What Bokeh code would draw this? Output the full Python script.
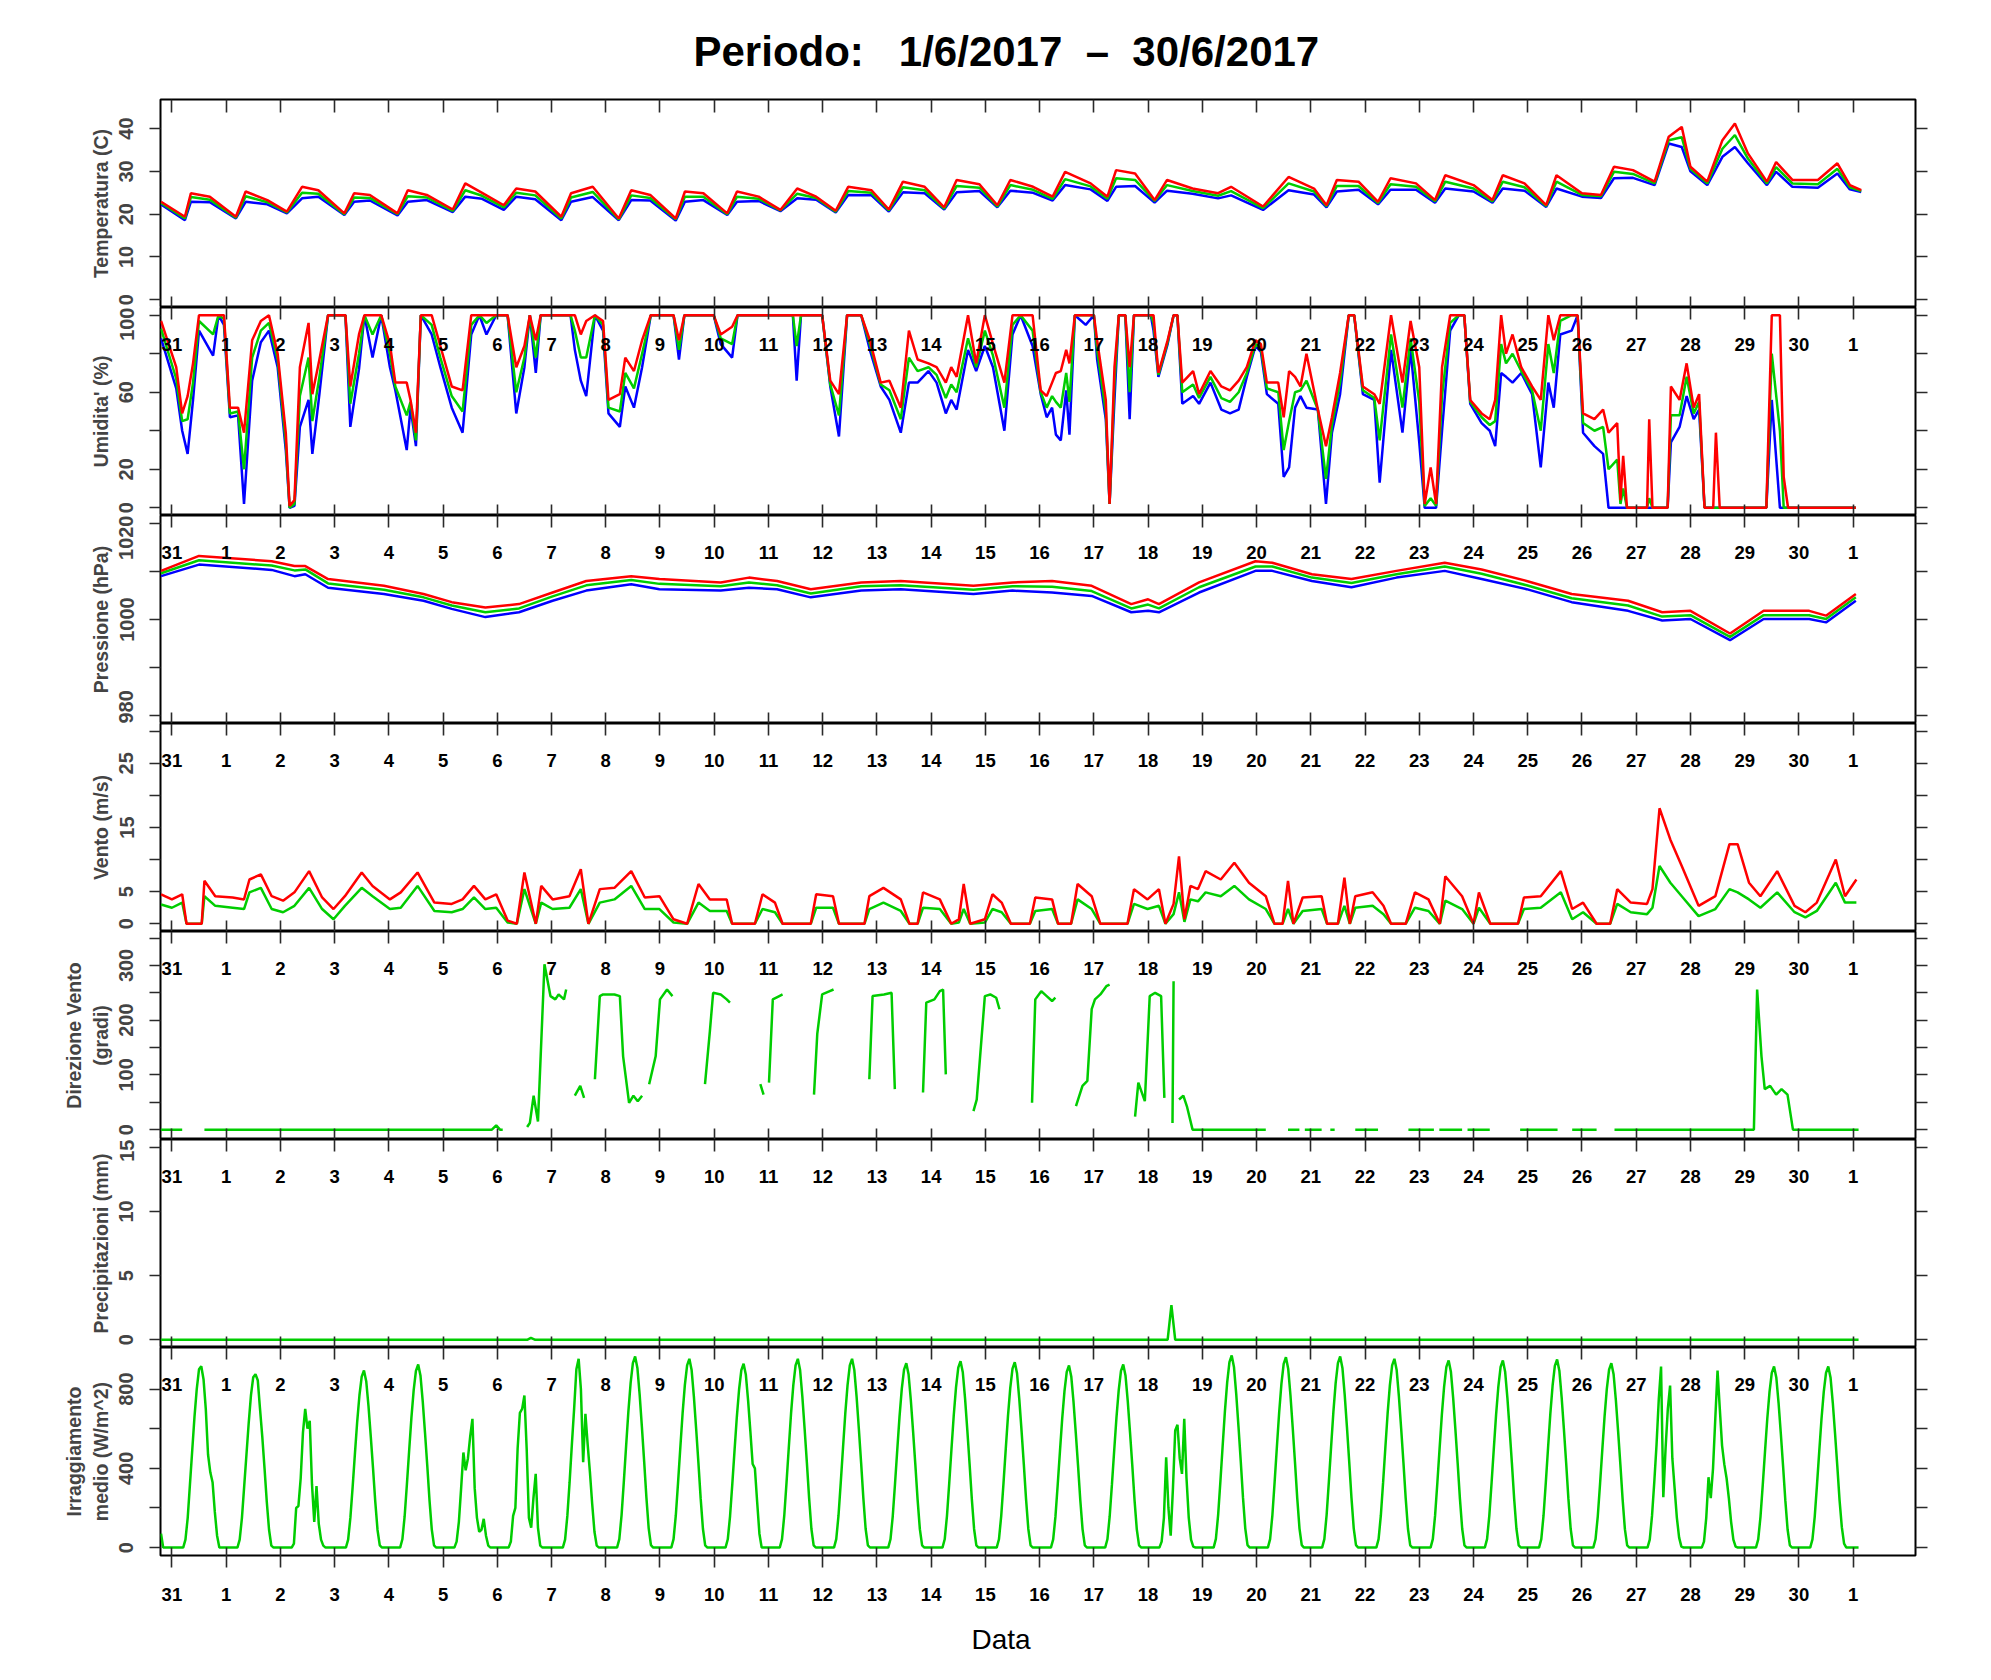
import math
from bokeh.plotting import figure
from bokeh.layouts import column
from bokeh.models import LinearAxis, FixedTicker, Range1d, Title
from bokeh.embed import file_html
from bokeh.resources import INLINE

NAN = float("nan")

# ---------------- x axis (day ticks) ----------------
DAY_TICKS = list(range(32))
DAY_LABELS = ["31", "1", "2", "3", "4", "5", "6", "7", "8", "9", "10", "11", "12", "13", "14", "15",
              "16", "17", "18", "19", "20", "21", "22", "23", "24", "25", "26", "27", "28", "29", "30", "1"]

# ---------------- Temperatura (C) ----------------
temp_t = [-0.2, 0.24, 0.35, 0.7,
          1.18, 1.36, 1.76, 2.12, 2.4, 2.7, 3.18, 3.36, 3.65, 4.16, 4.35, 4.7,
          5.18, 5.41, 5.72, 6.12, 6.35, 6.7, 7.18, 7.36, 7.76, 8.24, 8.47, 8.82,
          9.29, 9.46, 9.8, 10.24, 10.42, 10.82, 11.22, 11.53, 11.88, 12.24, 12.47, 12.9,
          13.22, 13.48, 13.88, 14.24, 14.47, 14.89, 15.22, 15.46, 15.88, 16.24, 16.47, 16.94,
          17.25, 17.41, 17.76, 18.12, 18.35, 18.82,
          19.29, 19.53, 20.12, 20.59,
          21.06, 21.29, 21.48, 21.88, 22.24, 22.47, 22.94, 23.29, 23.48,
          24.0, 24.35, 24.54, 24.94, 25.34, 25.53,
          26.0, 26.35, 26.59, 26.94, 27.34, 27.6, 27.84,
          28.0, 28.31, 28.59, 28.82, 29.06, 29.41, 29.58, 29.88,
          30.35, 30.71, 30.94, 31.15]
temp_max = [22.9, 19.4, 24.9, 24.1,
            19.4, 25.3, 23.3, 20.6, 26.4, 25.6, 20.2, 24.9, 24.5, 20.2, 25.6, 24.5,
            21.1, 27.2, 25.0, 22.1, 26.0, 25.3, 19.4, 24.9, 26.4, 19.0, 25.6, 24.5,
            19.0, 25.3, 24.9, 20.2, 25.3, 24.1, 21.0, 26.0, 24.1, 20.8, 26.4, 25.6,
            21.1, 27.6, 26.4, 21.6, 28.0, 27.0, 22.1, 28.0, 26.4, 24.1, 29.9, 27.2,
            24.1, 30.3, 29.5, 23.3, 28.0, 26.0,
            24.9, 26.4, 21.8, 28.7,
            26.0, 22.1, 28.0, 27.6, 22.9, 28.4, 27.2, 23.3, 29.1,
            26.8, 23.3, 29.1, 27.2, 22.1, 29.1,
            24.9, 24.5, 31.1, 30.3, 27.6, 38.1, 40.4,
            31.1, 27.6, 37.3, 41.2, 34.2, 27.6, 32.2, 28.0,
            28.0, 31.9, 26.8, 25.6]
temp_mean = [22.6, 19.0, 24.0, 23.4,
             19.2, 24.2, 22.8, 20.4, 25.0, 24.8, 20.0, 23.9, 23.8, 20.0, 24.2, 23.9,
             20.8, 25.6, 24.3, 21.6, 25.0, 24.4, 19.0, 23.9, 25.2, 18.8, 24.4, 23.8,
             18.8, 24.1, 24.1, 20.0, 24.1, 23.6, 20.9, 24.8, 23.8, 20.6, 25.4, 25.0,
             20.9, 26.3, 25.6, 21.3, 26.6, 26.2, 21.8, 26.8, 25.7, 23.6, 28.2, 26.5,
             23.6, 28.4, 28.0, 23.1, 26.8, 25.4,
             24.3, 25.4, 21.4, 27.2,
             25.3, 21.9, 26.6, 26.6, 22.6, 27.0, 26.4, 23.0, 27.6,
             26.0, 23.0, 27.6, 26.3, 21.9, 27.6,
             24.5, 24.2, 29.9, 29.4, 27.2, 37.3, 38.0,
             30.6, 27.2, 35.3, 38.5, 33.0, 27.2, 31.0, 27.2,
             27.0, 30.6, 26.3, 25.4]
temp_min = [22.3, 18.6, 22.9, 22.8,
            19.0, 22.9, 22.3, 20.2, 23.7, 24.1, 19.8, 22.9, 23.2, 19.7, 22.9, 23.3,
            20.5, 24.1, 23.6, 21.0, 24.1, 23.5, 18.6, 22.9, 24.0, 18.6, 23.3, 23.2,
            18.5, 22.9, 23.3, 19.8, 22.9, 23.1, 20.7, 23.7, 23.4, 20.4, 24.5, 24.4,
            20.6, 25.1, 24.9, 21.1, 25.1, 25.4, 21.6, 25.5, 25.0, 23.2, 26.8, 25.8,
            23.1, 26.4, 26.6, 22.7, 25.5, 24.8,
            23.7, 24.4, 21.0, 25.6,
            24.6, 21.6, 25.3, 25.7, 22.3, 25.7, 25.7, 22.7, 26.0,
            25.3, 22.7, 26.0, 25.5, 21.7, 26.0,
            24.1, 23.8, 28.4, 28.5, 26.8, 36.5, 35.7,
            30.0, 26.8, 33.4, 35.7, 31.9, 26.8, 29.9, 26.4,
            26.2, 29.5, 25.8, 25.2]

# ---------------- Umidita' (%) ----------------
hum_t = [-0.2, 0.08, 0.19, 0.29, 0.39, 0.5, 0.76, 0.86, 0.96, 1.07,
         1.22, 1.33, 1.48, 1.64, 1.79, 1.95, 2.1, 2.17, 2.26, 2.36,
         2.52, 2.59, 2.72, 2.88, 3.2, 3.29, 3.45, 3.55, 3.7, 3.86,
         4.02, 4.12, 4.33, 4.4, 4.5, 4.59, 4.79, 4.95, 5.16, 5.36,
         5.52, 5.67, 5.8, 5.98, 6.19, 6.35, 6.5, 6.6, 6.71, 6.8,
         7.35, 7.43, 7.54, 7.64, 7.8, 7.95, 8.05, 8.26, 8.36, 8.52,
         8.67, 8.83, 9.25, 9.35, 9.45, 9.99, 10.12, 10.33, 10.43, 11.45,
         11.52, 11.6, 11.99, 12.14, 12.3, 12.45, 12.71, 12.87, 13.07, 13.23,
         13.44, 13.59, 13.75, 13.95, 14.1, 14.27, 14.37, 14.47, 14.68, 14.83,
         14.99, 15.14, 15.35, 15.5, 15.65, 15.87, 16.02, 16.13, 16.23, 16.3,
         16.39, 16.49, 16.55, 16.65, 16.85, 17.0, 17.06, 17.22, 17.29, 17.38,
         17.46, 17.58, 17.66, 17.74, 18.05, 18.1, 18.19, 18.36, 18.47, 18.54,
         18.63, 18.83, 18.94, 19.15, 19.35, 19.51, 19.67, 19.82, 19.98, 20.08,
         20.19, 20.4, 20.5, 20.6, 20.71, 20.81, 20.92, 21.13, 21.28, 21.39,
         21.54, 21.7, 21.8, 21.96, 22.17, 22.27, 22.48, 22.69, 22.84, 23.0,
         23.1, 23.21, 23.31, 23.42, 23.57, 23.73, 23.83, 23.94, 24.15, 24.3,
         24.4, 24.51, 24.6, 24.72, 24.88, 25.08, 25.24, 25.38, 25.48, 25.6,
         25.81, 25.92, 26.02, 26.23, 26.39, 26.49, 26.65, 26.71, 26.76, 26.83,
         27.2, 27.24, 27.3, 27.58, 27.64, 27.8, 27.93, 28.06, 28.16, 28.26,
         28.42, 28.47, 28.54, 29.4, 29.5, 29.65, 29.72, 29.8, 31.05]
hum_max = [97, 73, 49, 58, 75, 100, 100, 100, 100, 52,
           52, 39, 87, 97, 100, 80, 39, 1, 4, 73,
           96, 59, 77, 100, 100, 63, 90, 100, 100, 100,
           85, 65, 65, 56, 39, 100, 100, 84, 63, 61,
           100, 100, 100, 100, 100, 73, 84, 100, 87, 100,
           100, 100, 90, 97, 100, 97, 56, 59, 78, 71,
           87, 100, 100, 87, 100, 100, 90, 94, 100, 100,
           100, 100, 100, 66, 59, 100, 100, 87, 65, 66,
           52, 92, 77, 75, 73, 65, 73, 68, 100, 75,
           100, 85, 65, 100, 100, 100, 61, 58, 65, 70,
           71, 82, 75, 100, 100, 100, 87, 56, 2, 73,
           100, 100, 73, 100, 100, 100, 70, 87, 100, 100,
           65, 71, 59, 71, 63, 61, 66, 73, 87, 85,
           65, 65, 47, 71, 68, 63, 80, 51, 32, 47,
           70, 100, 100, 63, 59, 54, 100, 65, 97, 73,
           2, 21, 2, 73, 100, 100, 100, 56, 49, 46,
           56, 100, 80, 90, 73, 63, 56, 100, 87, 100,
           100, 100, 49, 46, 51, 39, 44, 4, 27, 0,
           0, 46, 0, 0, 63, 56, 75, 52, 59, 0,
           0, 39, 0, 0, 100, 100, 16, 0, 0]
hum_mean = [93, 67, 45, 46, 65, 97, 90, 100, 98, 49,
            50, 20, 78, 92, 96, 77, 34, 0, 2, 58,
            78, 45, 68, 100, 100, 54, 80, 100, 90, 100,
            80, 63, 48, 55, 35, 100, 95, 78, 58, 50,
            95, 100, 96, 100, 100, 60, 78, 100, 78, 100,
            100, 92, 78, 78, 100, 95, 52, 50, 70, 62,
            80, 100, 100, 82, 100, 100, 88, 85, 100, 100,
            84, 100, 100, 64, 48, 100, 100, 85, 64, 61,
            46, 78, 71, 73, 69, 57, 64, 60, 88, 73,
            92, 79, 52, 95, 100, 92, 60, 52, 58, 55,
            52, 70, 55, 100, 100, 100, 82, 50, 2, 65,
            100, 100, 60, 100, 100, 96, 69, 86, 100, 100,
            60, 64, 57, 68, 57, 55, 60, 70, 85, 83,
            62, 60, 30, 45, 60, 61, 66, 51, 15, 43,
            65, 100, 100, 61, 57, 35, 90, 52, 88, 55,
            1, 5, 1, 58, 96, 100, 100, 55, 47, 43,
            45, 85, 75, 80, 71, 61, 40, 85, 70, 97,
            100, 100, 44, 40, 42, 20, 25, 2, 10, 0,
            0, 5, 0, 0, 48, 48, 68, 49, 55, 0,
            0, 0, 0, 0, 80, 40, 0, 0, 0]
hum_min = [88, 62, 40, 28, 56, 92, 79, 100, 95, 47,
           48, 2, 66, 86, 92, 73, 30, 0, 1, 42,
           56, 28, 59, 100, 100, 42, 72, 100, 78, 100,
           73, 61, 30, 52, 32, 100, 90, 73, 52, 39,
           90, 100, 90, 100, 100, 49, 73, 100, 70, 100,
           100, 82, 66, 58, 100, 92, 49, 42, 63, 52,
           73, 100, 100, 77, 100, 100, 85, 78, 100, 100,
           66, 100, 100, 63, 37, 100, 100, 82, 63, 56,
           39, 65, 65, 71, 65, 49, 56, 51, 82, 71,
           84, 73, 40, 90, 100, 84, 59, 47, 52, 38,
           35, 61, 38, 100, 95, 100, 77, 46, 2, 56,
           100, 100, 46, 100, 100, 92, 68, 85, 100, 100,
           54, 58, 54, 65, 51, 49, 51, 68, 84, 81,
           59, 54, 16, 21, 52, 58, 52, 51, 2, 39,
           59, 100, 100, 59, 56, 13, 82, 39, 82, 34,
           0, 0, 0, 40, 92, 100, 100, 54, 44, 40,
           32, 70, 68, 65, 70, 59, 21, 65, 52, 90,
           92, 100, 39, 32, 28, 0, 0, 0, 0, 0,
           0, 0, 0, 0, 34, 42, 58, 46, 51, 0,
           0, 0, 0, 0, 56, 0, 0, 0, 0]

# ---------------- Pressione (hPa) ----------------
pres_t = [-0.2, 0.5, 1.84, 2.26, 2.46, 2.88, 3.91, 4.64, 5.16, 5.78,
          6.4, 7.02, 7.64, 8.47, 8.99, 10.12, 10.64, 11.16, 11.78, 12.71,
          13.44, 14.78, 15.5, 16.23, 16.96, 17.69, 18.0, 18.2, 18.94, 19.98,
          20.29, 21.02, 21.75, 22.58, 23.47, 24.15, 24.98, 25.81, 26.85, 27.48,
          28.0, 28.73, 29.35, 30.19, 30.5, 31.05]
pres_max = [1010.1, 1013.2, 1012.1, 1011.1, 1011.1, 1008.4, 1007.0, 1005.3, 1003.6, 1002.5,
            1003.2, 1005.6, 1008.0, 1009.0, 1008.4, 1007.7, 1008.7, 1008.0, 1006.3, 1007.7,
            1008.0, 1007.0, 1007.7, 1008.0, 1007.0, 1003.2, 1004.2, 1003.2, 1007.7, 1012.1,
            1011.8, 1009.4, 1008.4, 1010.1, 1011.8, 1010.4, 1008.0, 1005.3, 1003.9, 1001.5,
            1001.8, 997.1, 1001.8, 1001.8, 1000.8, 1005.3]
pres_mean = [1009.6, 1012.3, 1011.2, 1010.2, 1010.4, 1007.5, 1006.2, 1004.6, 1002.9, 1001.5,
             1002.3, 1004.8, 1007.1, 1008.2, 1007.4, 1006.9, 1007.7, 1007.1, 1005.4, 1006.9,
             1007.1, 1006.2, 1006.9, 1006.8, 1005.9, 1002.3, 1003.1, 1002.3, 1006.7, 1011.0,
             1011.0, 1008.7, 1007.6, 1009.4, 1011.0, 1009.5, 1007.1, 1004.4, 1002.9, 1000.6,
             1000.9, 996.4, 1000.9, 1000.9, 1000.1, 1004.6]
pres_min = [1009.0, 1011.4, 1010.3, 1009.0, 1009.4, 1006.6, 1005.3, 1003.9, 1002.2, 1000.5,
            1001.5, 1003.9, 1006.0, 1007.3, 1006.3, 1006.0, 1006.6, 1006.3, 1004.6, 1006.0,
            1006.3, 1005.3, 1006.0, 1005.6, 1004.9, 1001.5, 1001.8, 1001.5, 1005.6, 1010.1,
            1010.1, 1008.0, 1006.7, 1008.7, 1010.1, 1008.4, 1006.3, 1003.6, 1001.8, 999.8,
            1000.1, 995.7, 1000.1, 1000.1, 999.4, 1003.9]

# ---------------- Vento (m/s) ----------------
wind_t = [-0.2, 0.0, 0.19, 0.27, 0.55, 0.6, 0.8, 1.12, 1.33, 1.43,
          1.64, 1.84, 2.05, 2.26, 2.53, 2.77, 2.98, 3.19, 3.5, 3.7,
          4.02, 4.22, 4.53, 4.84, 5.16, 5.36, 5.57, 5.78, 5.98, 6.19,
          6.36, 6.5, 6.71, 6.81, 7.02, 7.33, 7.54, 7.68, 7.89, 8.16,
          8.47, 8.72, 8.99, 9.25, 9.5, 9.71, 9.92, 10.23, 10.33, 10.75,
          10.89, 11.12, 11.26, 11.78, 11.88, 12.19, 12.3, 12.77, 12.86, 13.12,
          13.44, 13.6, 13.75, 13.85, 14.16, 14.37, 14.51, 14.6, 14.72, 14.99,
          15.13, 15.3, 15.47, 15.82, 15.92, 16.23, 16.34, 16.58, 16.7, 16.96,
          17.12, 17.62, 17.74, 17.99, 18.2, 18.32, 18.47, 18.57, 18.67, 18.78,
          18.92, 19.06, 19.34, 19.59, 19.86, 20.17, 20.33, 20.48, 20.58, 20.68,
          20.85, 21.2, 21.3, 21.5, 21.62, 21.72, 21.82, 22.14, 22.34, 22.48,
          22.75, 22.92, 23.17, 23.38, 23.48, 23.79, 24.0, 24.1, 24.31, 24.82,
          24.93, 25.24, 25.61, 25.82, 26.02, 26.27, 26.52, 26.65, 26.9, 27.2,
          27.3, 27.43, 27.63, 27.84, 28.15, 28.46, 28.72, 28.87, 29.08, 29.29,
          29.6, 29.92, 30.12, 30.33, 30.68, 30.85, 31.06]
wind_max = [4.6, 3.8, 4.6, 0, 0, 6.7, 4.3, 4.1, 3.8, 6.9,
            7.7, 4.3, 3.6, 4.9, 8.2, 4.1, 2.3, 4.3, 8.0, 5.9,
            3.8, 4.9, 8.0, 3.3, 3.1, 3.8, 5.9, 3.8, 4.6, 0.5,
            0, 8.0, 0, 5.9, 3.8, 4.3, 8.5, 0, 5.4, 5.6,
            8.2, 4.1, 4.3, 0.7, 0, 6.2, 3.8, 3.8, 0, 0,
            4.6, 3.3, 0, 0, 4.6, 4.3, 0, 0, 4.3, 5.6,
            3.8, 0, 0, 4.9, 3.8, 0, 0.7, 6.2, 0, 0.7,
            4.6, 3.3, 0, 0, 4.1, 3.8, 0, 0, 6.2, 4.3,
            0, 0, 5.4, 3.8, 5.4, 0, 3.1, 10.5, 0.7, 5.9,
            5.4, 8.2, 6.9, 9.5, 6.4, 4.3, 0, 0, 6.7, 0,
            4.1, 4.3, 0, 0, 7.2, 0, 4.3, 4.9, 2.8, 0,
            0, 4.9, 3.8, 0, 7.4, 4.3, 0, 4.9, 0, 0,
            4.1, 4.3, 8.2, 2.3, 3.3, 0, 0, 5.4, 3.3, 3.1,
            5.4, 18.0, 13.1, 9.0, 2.8, 4.3, 12.4, 12.4, 6.4, 4.3,
            8.2, 2.8, 1.8, 3.3, 10.0, 4.3, 6.9]
wind_mean = [3.0, 2.5, 3.3, 0, 0, 4.3, 2.8, 2.5, 2.3, 4.9,
             5.6, 2.3, 1.8, 2.8, 5.6, 2.3, 0.7, 2.8, 5.6, 4.3,
             2.3, 2.5, 5.9, 2.0, 1.8, 2.3, 4.1, 2.3, 2.5, 0.2,
             0, 5.4, 0, 3.3, 2.3, 2.5, 5.4, 0, 3.3, 3.8,
             5.9, 2.3, 2.3, 0.2, 0, 3.3, 2.0, 2.0, 0, 0,
             2.3, 1.8, 0, 0, 2.5, 2.5, 0, 0, 2.3, 3.3,
             2.0, 0, 0, 2.5, 2.3, 0, 0.2, 2.3, 0, 0.2,
             2.3, 1.8, 0, 0, 2.0, 2.3, 0, 0, 3.8, 2.3,
             0, 0, 3.1, 2.3, 2.8, 0, 1.5, 4.9, 0.3, 3.8,
             3.5, 4.9, 4.3, 5.9, 3.8, 2.3, 0, 0, 2.3, 0,
             2.0, 2.3, 0, 0, 2.8, 0, 2.5, 2.8, 1.5, 0,
             0, 2.5, 2.0, 0, 3.6, 2.3, 0, 2.5, 0, 0,
             2.3, 2.5, 4.9, 0.7, 1.8, 0, 0, 3.1, 1.8, 1.5,
             2.5, 9.0, 6.4, 4.3, 1.2, 2.3, 5.4, 4.9, 3.8, 2.5,
             4.9, 1.8, 1.0, 2.0, 6.4, 3.3, 3.3]

# ---------------- Direzione Vento (gradi), NAN = missing ----------------
dir_t = [-0.2, 0.19, 0.2, 0.6, 5.9, 5.98, 6.05, 6.1, 6.12, 6.55,
         6.6, 6.67, 6.75, 6.87, 6.98, 7.07, 7.13, 7.23, 7.27, 7.3,
         7.43, 7.53, 7.6, 7.65, 7.8, 7.89, 7.95, 8.16, 8.26, 8.32,
         8.43, 8.51, 8.59, 8.67, 8.7, 8.8, 8.92, 9.0, 9.13, 9.23,
         9.3, 9.83, 9.92, 9.98, 10.12, 10.23, 10.29, 10.35, 10.85, 10.91,
         10.95, 11.01, 11.08, 11.2, 11.26, 11.3, 11.84, 11.9, 11.99, 12.13,
         12.2, 12.25, 12.86, 12.92, 13.13, 13.27, 13.33, 13.4, 13.85, 13.91,
         14.06, 14.16, 14.22, 14.27, 14.3, 14.78, 14.84, 14.99, 15.09, 15.2,
         15.26, 15.3, 15.86, 15.92, 16.03, 16.13, 16.23, 16.29, 16.35, 16.67,
         16.79, 16.88, 16.96, 17.02, 17.12, 17.23, 17.29, 17.35, 17.76, 17.82,
         17.94, 18.03, 18.13, 18.24, 18.3, 18.35, 18.45, 18.47, 18.5, 18.57,
         18.65, 18.72, 18.82, 20.17, 20.2, 20.58, 20.79, 20.84, 20.89, 21.2,
         21.25, 21.36, 21.44, 21.5, 21.82, 22.24, 22.3, 22.8, 23.27, 23.32,
         23.37, 23.79, 23.84, 23.89, 24.3, 24.35, 24.86, 25.55, 25.6, 25.82,
         26.27, 26.3, 26.6, 29.17, 29.23, 29.31, 29.37, 29.47, 29.58, 29.68,
         29.79, 29.89, 31.1]
dir_v = [0, 0, NAN, 0, 0, 8, 0, 0, NAN, 5,
         12, 62, 15, 302, 244, 238, 247, 238, 256, NAN,
         62, 80, 58, NAN, 92, 244, 247, 247, 244, 134,
         49, 62, 52, 62, NAN, 83, 134, 238, 256, 244,
         NAN, 83, 180, 250, 247, 238, 232, NAN, 83, 64,
         NAN, 86, 238, 244, 247, NAN, 64, 175, 247, 253,
         256, NAN, 92, 244, 247, 250, 74, NAN, 68, 232,
         238, 253, 256, 101, NAN, 34, 55, 244, 247, 241,
         220, NAN, 49, 238, 253, 244, 235, 241, NAN, 43,
         80, 89, 220, 238, 247, 262, 265, NAN, 24, 86,
         52, 244, 250, 244, 58, NAN, 12, 271, NAN, 55,
         62, 41, 0, 0, NAN, 0, 0, NAN, 0, 0,
         NAN, 0, 0, NAN, 0, 0, NAN, 0, 0, NAN,
         0, 0, NAN, 0, 0, NAN, 0, 0, NAN, 0,
         0, NAN, 0, 0, 256, 134, 74, 80, 64, 74,
         64, 0, 0]

# ---------------- Precipitazioni (mm) ----------------
rain_t = [-0.2, 6.55, 6.62, 6.7, 18.36, 18.43, 18.5, 31.1]
rain_v = [0, 0, 0.15, 0, 0, 2.7, 0, 0]

# ---------------- Irraggiamento medio (W/m^2) ----------------
irr_hours = [5, 6, 7, 8, 9, 10, 11, 12, 13, 14, 15, 16, 17, 18, 19, 20, 21]
irr_days = [
    [0, 40, 150, 320, 490, 660, 800, 900, 915, 850, 700, 470, 380, 330, 180, 60, 0],
    [0, 40, 150, 310, 470, 630, 770, 860, 875, 845, 700, 560, 400, 230, 90, 10, 0],
    [0, 20, 200, 210, 350, 580, 700, 600, 640, 320, 130, 310, 120, 40, 10, 0, 0],
    [0, 40, 152, 308, 474, 635, 769, 863, 894, 840, 715, 563, 402, 232, 89, 11, 0],
    [0, 42, 157, 319, 490, 656, 795, 892, 924, 869, 739, 582, 416, 240, 92, 11, 0],
    [0, 30, 130, 300, 480, 390, 450, 560, 650, 300, 150, 80, 90, 145, 60, 10, 0],
    [0, 30, 160, 200, 500, 680, 700, 768, 500, 150, 100, 250, 372, 100, 10, 0, 0],
    [0, 40, 160, 330, 520, 700, 900, 953, 800, 431, 675, 520, 380, 220, 80, 10, 0],
    [0, 43, 164, 333, 511, 685, 830, 931, 965, 907, 772, 608, 434, 251, 97, 12, 0],
    [0, 43, 162, 329, 505, 677, 820, 920, 953, 896, 762, 600, 429, 248, 95, 11, 0],
    [0, 42, 158, 320, 492, 659, 798, 896, 928, 872, 742, 585, 422, 400, 230, 70, 0],
    [0, 43, 162, 329, 505, 677, 820, 920, 953, 896, 762, 600, 429, 248, 95, 11, 0],
    [0, 43, 162, 329, 505, 677, 820, 920, 953, 896, 762, 600, 429, 248, 95, 11, 0],
    [0, 42, 158, 321, 493, 661, 801, 898, 931, 875, 745, 587, 419, 242, 93, 11, 0],
    [0, 42, 160, 325, 499, 668, 809, 908, 941, 885, 753, 593, 423, 245, 94, 11, 0],
    [0, 42, 159, 323, 496, 665, 805, 903, 936, 880, 749, 590, 421, 243, 94, 11, 0],
    [0, 41, 156, 317, 487, 652, 790, 887, 919, 864, 735, 579, 414, 239, 92, 11, 0],
    [0, 42, 157, 319, 490, 656, 795, 892, 924, 869, 739, 582, 416, 240, 92, 11, 0],
    [0, 30, 150, 456, 200, 60, 300, 591, 620, 450, 372, 650, 350, 150, 40, 5, 0],
    [0, 44, 165, 335, 514, 689, 834, 936, 970, 912, 776, 611, 437, 252, 97, 12, 0],
    [0, 43, 163, 332, 509, 682, 826, 927, 961, 903, 769, 605, 432, 250, 96, 12, 0],
    [0, 43, 164, 333, 511, 685, 830, 931, 965, 907, 772, 608, 434, 251, 97, 12, 0],
    [0, 43, 162, 329, 505, 677, 820, 920, 953, 896, 762, 600, 429, 248, 95, 11, 0],
    [0, 43, 161, 326, 501, 671, 813, 912, 945, 888, 756, 595, 425, 246, 95, 11, 0],
    [0, 43, 161, 326, 501, 671, 813, 912, 945, 888, 756, 595, 425, 246, 95, 11, 0],
    [0, 43, 162, 328, 504, 675, 817, 917, 950, 893, 760, 599, 428, 247, 95, 11, 0],
    [0, 42, 158, 321, 493, 661, 801, 898, 931, 875, 745, 587, 419, 242, 93, 11, 0],
    [0, 40, 160, 330, 520, 750, 914, 254, 500, 700, 818, 450, 300, 150, 50, 5, 0],
    [0, 30, 150, 355, 250, 400, 650, 894, 700, 515, 420, 350, 250, 130, 40, 5, 0],
    [0, 41, 155, 315, 484, 649, 786, 882, 914, 859, 731, 576, 411, 238, 91, 11, 0],
    [0, 41, 155, 315, 484, 649, 786, 882, 914, 859, 731, 576, 411, 238, 103, 20, 0],
]
irr_head_t = [-0.2, -0.16]
irr_head_v = [70, 0]
irr_tail_t = [31.1]
irr_tail_v = [0]

# ---------------- styling ----------------
FONT = "Liberation Sans"
FRAME_W, FRAME_H = 1755, 208
X0, X1 = -0.21, 32.15
RED, GREEN, BLUE = "#FF0000", "#00CD00", "#0000FF"
TICK_COLOR = "#2a2a2a"
LW = 2.5


def day_axis(p, side, loc, tick_in, tick_out, labels, standoff=20):
    ax = LinearAxis(ticker=FixedTicker(ticks=DAY_TICKS, minor_ticks=[]),
                    major_label_overrides={t: (DAY_LABELS[i] if labels else "")
                                           for i, t in enumerate(DAY_TICKS)})
    if loc is not None:
        ax.fixed_location = loc
    ax.axis_line_color = None
    ax.major_tick_in = tick_in
    ax.major_tick_out = tick_out
    ax.major_tick_line_color = TICK_COLOR
    ax.major_tick_line_width = 1.6
    ax.minor_tick_line_color = None
    ax.major_label_standoff = standoff
    ax.major_label_text_font = FONT
    ax.major_label_text_font_style = "bold"
    ax.major_label_text_font_size = "18.5px"
    ax.major_label_text_color = "black"
    p.add_layout(ax, side)
    return ax


def make_panel(y0, y1, yticks, ylabels, ylabel, first=False, last=False):
    p = figure(frame_width=FRAME_W, frame_height=FRAME_H,
               x_range=Range1d(X0, X1), y_range=Range1d(y0, y1),
               x_axis_location=None, y_axis_location=None,
               toolbar_location=None, output_backend="svg",
               min_border_left=160, min_border_right=60,
               min_border_top=90 if first else 0,
               min_border_bottom=122 if last else 0,
               background_fill_color="white", border_fill_color="white")
    p.outline_line_color = "black"
    p.outline_line_width = 2
    p.grid.visible = False

    la = LinearAxis(ticker=FixedTicker(ticks=yticks, minor_ticks=[]),
                    major_label_overrides={t: (str(t) if t in ylabels else "") for t in yticks},
                    axis_label=ylabel)
    la.axis_line_color = None
    la.major_label_orientation = "vertical"
    la.major_tick_out = 11
    la.major_tick_in = 0
    la.major_tick_line_color = TICK_COLOR
    la.major_tick_line_width = 1.6
    la.minor_tick_line_color = None
    la.major_label_standoff = 16
    la.major_label_text_font = FONT
    la.major_label_text_font_style = "bold"
    la.major_label_text_font_size = "20px"
    la.axis_label_text_font = FONT
    la.axis_label_text_font_style = "bold"
    la.axis_label_text_font_size = "19.5px"
    la.axis_label_standoff = 5
    p.add_layout(la, "left")

    ra = LinearAxis(ticker=FixedTicker(ticks=yticks, minor_ticks=[]),
                    major_label_overrides={t: "" for t in yticks})
    ra.axis_line_color = None
    ra.major_tick_out = 12
    ra.major_tick_in = 0
    ra.major_tick_line_color = TICK_COLOR
    ra.major_tick_line_width = 1.6
    ra.minor_tick_line_color = None
    p.add_layout(ra, "right")

    if first:
        day_axis(p, "above", y1, 13, 0, False)
    else:
        day_axis(p, "below", y1, 0, 12, True, standoff=18)
    if last:
        day_axis(p, "below", None, 8, 12, True, standoff=20)
    else:
        day_axis(p, "below", y0, 11, 0, False, standoff=0)
    return p


p_temp = make_panel(-1.8, 46.8, [0, 10, 20, 30, 40], [0, 10, 20, 30, 40], "Temperatura (C)", first=True)
p_temp.line(temp_t, temp_min, line_color=BLUE, line_width=LW)
p_temp.line(temp_t, temp_mean, line_color=GREEN, line_width=LW)
p_temp.line(temp_t, temp_max, line_color=RED, line_width=LW)
title = Title(text="Periodo:\u00a0\u00a0\u00a01/6/2017\u00a0\u00a0\u2013\u00a0\u00a030/6/2017",
              align="left", offset=533, text_font=FONT, text_font_size="42px",
              text_font_style="bold", text_color="black", standoff=50)
p_temp.add_layout(title, "above")

p_hum = make_panel(-4, 104, [0, 20, 40, 60, 80, 100], [0, 20, 60, 100], "Umidita' (%)")
p_hum.line(hum_t, hum_min, line_color=BLUE, line_width=LW)
p_hum.line(hum_t, hum_mean, line_color=GREEN, line_width=LW)
p_hum.line(hum_t, hum_max, line_color=RED, line_width=LW)

p_pres = make_panel(978.4, 1021.6, [980, 990, 1000, 1010, 1020], [980, 1000, 1020], "Pressione (hPa)")
p_pres.line(pres_t, pres_min, line_color=BLUE, line_width=LW)
p_pres.line(pres_t, pres_mean, line_color=GREEN, line_width=LW)
p_pres.line(pres_t, pres_max, line_color=RED, line_width=LW)

p_wind = make_panel(-1.2, 31.2, [0, 5, 10, 15, 20, 25, 30], [0, 5, 15, 25], "Vento (m/s)")
p_wind.line(wind_t, wind_mean, line_color=GREEN, line_width=LW)
p_wind.line(wind_t, wind_max, line_color=RED, line_width=LW)

p_dir = make_panel(-18, 362, [0, 50, 100, 150, 200, 250, 300, 350], [0, 100, 200, 300],
                   "Direzione Vento\n(gradi)")
p_dir.line(dir_t, dir_v, line_color=GREEN, line_width=LW)

p_rain = make_panel(-0.6, 15.6, [0, 5, 10, 15], [0, 5, 10, 15], "Precipitazioni (mm)")
p_rain.line(rain_t, rain_v, line_color=GREEN, line_width=LW)

p_irr = make_panel(-40, 1010, [0, 200, 400, 600, 800], [0, 400, 800],
                   "Irraggiamento\nmedio (W/m^2)", last=True)
irr_x = list(irr_head_t)
irr_y = list(irr_head_v)
for d, vals in enumerate(irr_days):
    for h, v in zip(irr_hours, vals):
        irr_x.append(d + h / 24.0)
        irr_y.append(v)
irr_x += irr_tail_t
irr_y += irr_tail_v
p_irr.line(irr_x, irr_y, line_color=GREEN, line_width=LW)
xlab = Title(text="Data", align="left", offset=811, text_font=FONT, text_font_size="28px",
             text_font_style="normal", text_color="black", standoff=36)
p_irr.add_layout(xlab, "below")

layout = column(p_temp, p_hum, p_pres, p_wind, p_dir, p_rain, p_irr, spacing=0)
open("out.html", "w").write(file_html(layout, INLINE, title="Periodo 1/6/2017 - 30/6/2017"))
